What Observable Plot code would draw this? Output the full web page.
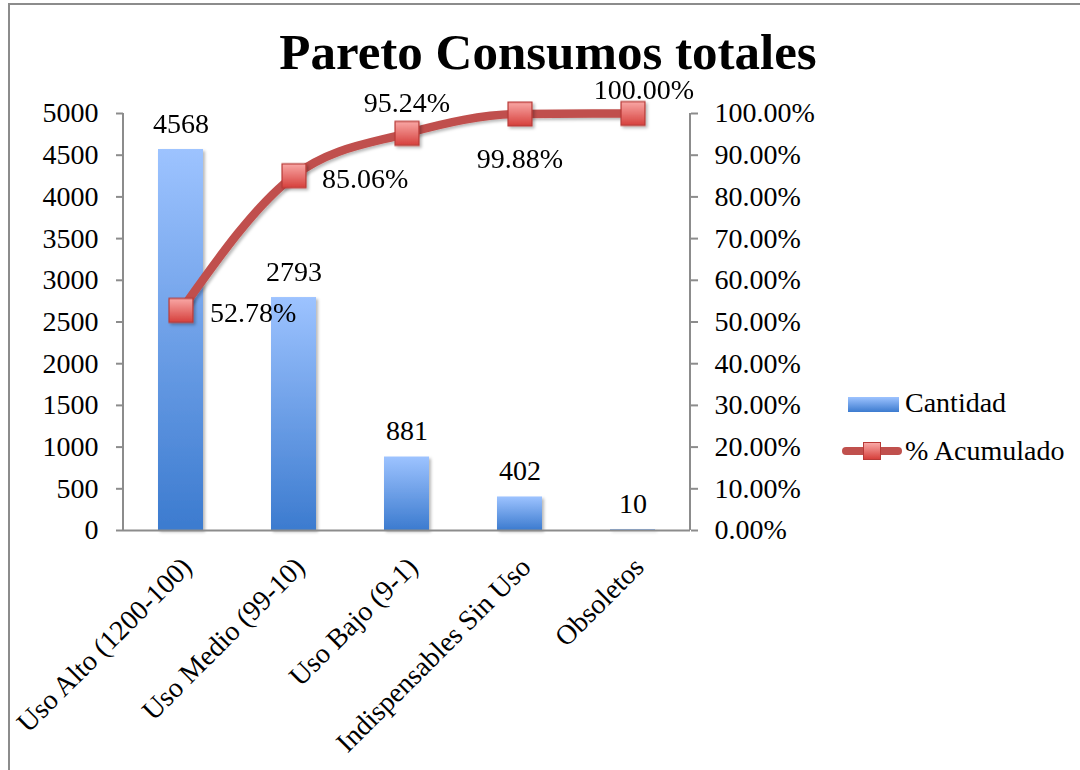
<!DOCTYPE html>
<html><head><meta charset="utf-8">
<script src="https://cdn.jsdelivr.net/npm/d3@7"></script>
<script src="https://cdn.jsdelivr.net/npm/@observablehq/plot@0.6"></script>
<style>
body{margin:0;background:#fff;}
#wrap{position:relative;width:1080px;height:770px;overflow:hidden;font-family:"Liberation Serif",serif;color:#000;}
#border{position:absolute;left:8px;top:3px;width:1200px;height:1000px;border-top:2px solid #8c8c8c;border-left:2px solid #8c8c8c;}
#chart{position:absolute;left:0;top:0;}
#title{position:absolute;left:0;width:1096px;top:32px;text-align:center;font-weight:bold;font-size:51px;line-height:40px;}
.legtxt{position:absolute;left:905px;font-size:28px;line-height:28px;white-space:nowrap;}
#swatch{position:absolute;left:848px;top:397px;width:51px;height:15px;background:linear-gradient(#9DC3FF,#3C7BCF);}
#legline{position:absolute;left:842px;top:447px;width:60px;height:8px;background:#C0504D;border-radius:4px;}
#legmk{position:absolute;left:863px;top:442px;width:16px;height:16px;background:linear-gradient(#F9A8A6,#D6403C);border:1px solid #B83A37;}
</style></head>
<body>
<div id="wrap">
  <div id="border"></div>
  <div id="chart"></div>
  <div id="title">Pareto Consumos totales</div>
  <div id="swatch"></div>
  <div class="legtxt" style="top:389px">Cantidad</div>
  <div id="legline"></div>
  <div id="legmk"></div>
  <div class="legtxt" style="top:437px">% Acumulado</div>
</div>
<script>
// ---- data ----
const categories = ["Uso Alto (1200-100)", "Uso Medio (99-10)", "Uso Bajo (9-1)", "Indispensables Sin Uso", "Obsoletos"];
const cantidad = [4568, 2793, 881, 402, 10];
const acumulado = [52.78, 85.06, 95.24, 99.88, 100.00];
const leftTicks = [0, 500, 1000, 1500, 2000, 2500, 3000, 3500, 4000, 4500, 5000];
const rightTickLabels = ["0.00%", "10.00%", "20.00%", "30.00%", "40.00%", "50.00%", "60.00%", "70.00%", "80.00%", "90.00%", "100.00%"];

// ---- label placement (style) ----
const pctLabelPlacement = [
  {textAnchor: "start", dx: 29, dy: 12},
  {textAnchor: "start", dx: 28, dy: 12},
  {textAnchor: "middle", dx: 0, dy: -21},
  {textAnchor: "middle", dx: 0, dy: 54},
  {textAnchor: "middle", dx: 11, dy: -15}
];

const yMax = 5000;
const pctScale = yMax / 100;
const rows = categories.map((c, i) => ({cat: c, cantidad: cantidad[i], pct: acumulado[i]}));
const FS = 28;
const axisGray = "#8c8c8c";

const defs = () => {
  const d = d3.create("svg:defs");
  d.html(`
    <linearGradient id="barGrad" x1="0" y1="0" x2="0" y2="1">
      <stop offset="0" stop-color="#9DC3FF"/><stop offset="1" stop-color="#3C7BCF"/>
    </linearGradient>
    <linearGradient id="mkGrad" x1="0" y1="0" x2="0" y2="1">
      <stop offset="0" stop-color="#F9A8A6"/><stop offset="1" stop-color="#D6403C"/>
    </linearGradient>
    <filter id="shadow" x="-20%" y="-20%" width="150%" height="150%">
      <feDropShadow dx="2" dy="2" stdDeviation="1.8" flood-color="#000" flood-opacity="0.28"/>
    </filter>`);
  return d.node();
};

const axisLines = (index, scales, values, dimensions) => {
  const {marginLeft, marginRight, width} = dimensions;
  const g = d3.create("svg:g").attr("stroke", axisGray).attr("stroke-width", 2);
  [marginLeft, width - marginRight].forEach(x => {
    g.append("line").attr("x1", x).attr("x2", x).attr("y1", scales.y(yMax)).attr("y2", scales.y(0));
  });
  return g.node();
};

const pctMarks = rows.map((r, i) => Plot.text([r], {
  x: "cat", y: d => d.pct * pctScale,
  text: d => d.pct.toFixed(2) + "%",
  textAnchor: pctLabelPlacement[i].textAnchor,
  lineAnchor: "bottom",
  dx: pctLabelPlacement[i].dx, dy: pctLabelPlacement[i].dy,
  fontSize: FS, fill: "black"
}));

const chart = Plot.plot({
  width: 1080, height: 770,
  marginTop: 113, marginBottom: 240, marginLeft: 123, marginRight: 390,
  style: {fontFamily: "'Liberation Serif', serif", background: "transparent", overflow: "visible"},
  x: {domain: categories, paddingInner: 0.6, paddingOuter: 0.3, axis: null},
  y: {domain: [0, yMax], axis: null},
  marks: [
    defs,
    Plot.barY(rows, {x: "cat", y: "cantidad", fill: "url(#barGrad)"}),
    Plot.ruleY([0], {stroke: axisGray, strokeWidth: 2}),
    axisLines,
    Plot.axisY({anchor: "left", ticks: leftTicks, tickSize: 7, tickPadding: 18, tickFormat: d => String(d),
      fontSize: FS, stroke: axisGray, strokeWidth: 2, strokeOpacity: 1, fill: "black", label: null}),
    Plot.axisY({anchor: "right", ticks: leftTicks, tickSize: 7, tickPadding: 17,
      tickFormat: d => rightTickLabels[leftTicks.indexOf(d)],
      fontSize: FS, stroke: axisGray, strokeWidth: 2, strokeOpacity: 1, fill: "black", label: null}),
    Plot.line(rows, {x: "cat", y: d => d.pct * pctScale, curve: "monotone-x", stroke: "#C0504D", strokeWidth: 8.5}),
    Plot.dot(rows, {x: "cat", y: d => d.pct * pctScale, symbol: "square", r: 13.5,
      fill: "url(#mkGrad)", stroke: "#B83A37", strokeWidth: 1.2}),
    Plot.text(rows, {x: "cat", y: "cantidad", text: d => String(d.cantidad), lineAnchor: "bottom", dy: -17,
      fontSize: FS, fill: "black"}),
    ...pctMarks,
    Plot.text(categories, {x: d => d, frameAnchor: "bottom", dx: 6, dy: 32, rotate: -45,
      textAnchor: "end", lineAnchor: "middle", fontSize: FS, fill: "black"})
  ]
});
d3.select(chart).selectAll("[aria-label='bar'], [aria-label='dot'], [aria-label='line']").attr("filter", "url(#shadow)");
document.getElementById("chart").appendChild(chart);
</script>
</body></html>
